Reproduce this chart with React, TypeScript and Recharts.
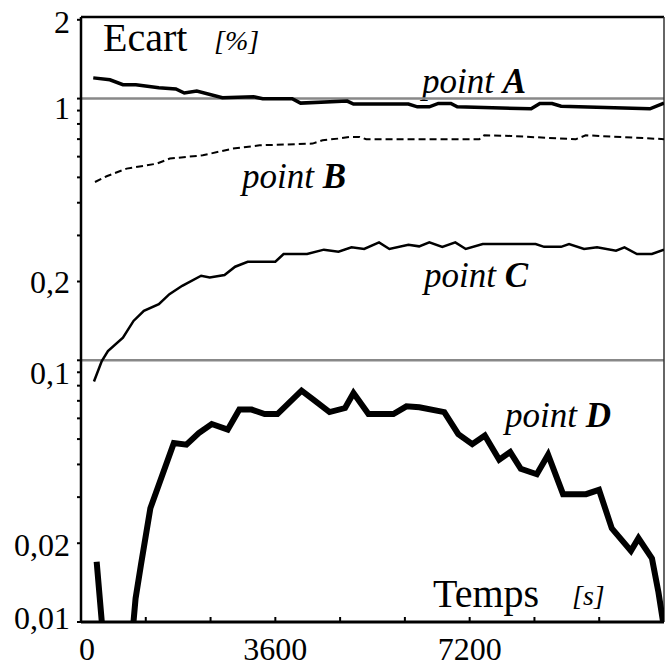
import React from 'react';
import { LineChart, Line, XAxis, YAxis, ReferenceLine } from 'recharts';

const FONT = '"Liberation Serif", "Times New Roman", serif';

// temps [s] et écart [%] relevés pour chaque point
const timeA = [227, 536, 777, 1017, 1442, 1757, 1914, 2145, 2619, 3199, 3366, 3912, 4068, 4931, 5048, 6065, 6231, 6453, 6619, 6852, 6970, 8339, 8500, 8727, 8893, 10539, 10800];
const ecartA = [1.2, 1.18, 1.13, 1.13, 1.1, 1.088, 1.05, 1.068, 1.007, 1.016, 0.998, 0.998, 0.961, 0.978, 0.953, 0.953, 0.93, 0.93, 0.958, 0.958, 0.93, 0.914, 0.958, 0.958, 0.935, 0.914, 0.961];

const timeB = [259, 475, 845, 1400, 1646, 2256, 2810, 3310, 4290, 4475, 4789, 4974, 5159, 5283, 7378, 7470, 7964, 9166, 9350, 10800];
const ecartB = [0.48, 0.505, 0.54, 0.564, 0.59, 0.607, 0.644, 0.663, 0.673, 0.693, 0.704, 0.714, 0.714, 0.699, 0.699, 0.724, 0.72, 0.699, 0.724, 0.7];

const timeC = [240, 385, 499, 777, 973, 1165, 1442, 1638, 1875, 2226, 2385, 2659, 2855, 3088, 3600, 3753, 4188, 4500, 4770, 5011, 5246, 5521, 5713, 6065, 6264, 6453, 6693, 6934, 7128, 7442, 8422, 8579, 8893, 9041, 9319, 9559, 9911, 10068, 10299, 10576, 10800];
const ecartC = [0.083, 0.0993, 0.1084, 0.122, 0.1414, 0.1544, 0.1638, 0.179, 0.1926, 0.2104, 0.2073, 0.2117, 0.2278, 0.238, 0.238, 0.2548, 0.2548, 0.2647, 0.26, 0.2701, 0.2663, 0.2823, 0.2663, 0.2766, 0.2725, 0.2823, 0.2713, 0.2823, 0.2663, 0.2783, 0.2783, 0.2713, 0.2713, 0.2783, 0.2663, 0.2701, 0.2623, 0.2701, 0.2548, 0.2548, 0.2647];

const timeD = [290, 550, 800, 1011, 1110, 1285, 1720, 1953, 2182, 2422, 2718, 2933, 3162, 3402, 3639, 4086, 4305, 4604, 4892, 5048, 5325, 5787, 6028, 6268, 6730, 6989, 7248, 7481, 7747, 7951, 8147, 8444, 8653, 8930, 9356, 9596, 9833, 10188, 10327, 10577, 10697, 10800];
const ecartD = [0.017, 0.004, 0.004, 0.0123, 0.0165, 0.0272, 0.0483, 0.0476, 0.0527, 0.0571, 0.0543, 0.0648, 0.0648, 0.0623, 0.0623, 0.0766, 0.0708, 0.0634, 0.0657, 0.075, 0.0623, 0.0623, 0.0667, 0.0661, 0.0634, 0.0522, 0.0478, 0.0516, 0.0417, 0.0446, 0.0385, 0.0367, 0.0436, 0.0308, 0.0308, 0.032, 0.0228, 0.0187, 0.0209, 0.0175, 0.013, 0.0095];

const xTicks = [0, 1200, 2400, 3600, 4800, 6000, 7200, 8400, 9600, 10800];
const xLabels = [0, 3600, 7200];

const yTicks = [2, 1, 0.9, 0.8, 0.7, 0.6, 0.5, 0.4, 0.3, 0.2, 0.1, 0.09, 0.08, 0.07, 0.06, 0.05, 0.04, 0.03, 0.02, 0.01];
const yLabelValues = [2, 1, 0.2, 0.1, 0.02, 0.01];
const yLabelTexts = ['2', '1', '0,2', '0,1', '0,02', '0,01'];

const toData = (t: number[], v: number[]) => t.map((time, i) => ({ t: time, v: v[i] }));
const dataA = toData(timeA, ecartA);
const dataB = toData(timeB, ecartB);
const dataC = toData(timeC, ecartC);
const dataD = toData(timeD, ecartD);

// décalages verticaux des libellés (comme sur l'original)
const yShift = [3, 10, 1, 13, 2, -4];

const YTick = ({ x, y, payload }: any) => {
  const i = yLabelValues.indexOf(payload.value);
  return (
    <g>
      <line x1={x - 4} x2={x} y1={y} y2={y} stroke="#000" strokeWidth={2} />
      {i >= 0 && (
        <text x={x - 11} y={y + yShift[i] + 10.5} textAnchor="end" fontFamily={FONT} fontSize={32} fill="#000">
          {yLabelTexts[i]}
        </text>
      )}
    </g>
  );
};

const XTick = ({ x, y, payload }: any) => {
  const v = payload.value;
  return (
    <g>
      {v > 0 && v < 10800 && <line x1={x} x2={x} y1={y} y2={y - 5} stroke="#000" strokeWidth={2} />}
      {xLabels.includes(v) && (
        <text x={v === 0 ? x + 6 : x} y={y + 38} textAnchor="middle" fontFamily={FONT} fontSize={32} fill="#000">
          {v}
        </text>
      )}
    </g>
  );
};

const PointLabel = ({ x, y, letter }: { x: number; y: number; letter: string }) => (
  <text x={x} y={y} fontFamily={FONT} fontSize={35} fontStyle="italic" fill="#000">
    point <tspan fontWeight="bold">{letter}</tspan>
  </text>
);

export default function App() {
  return (
    <div style={{ position: 'absolute', left: 0, top: 0, background: '#fff' }}>
      <LineChart width={665} height={667} margin={{ top: 17, right: 1, bottom: 0, left: 0 }}>
        <XAxis
          type="number"
          dataKey="t"
          domain={[0, 10800]}
          ticks={xTicks}
          interval={0}
          allowDataOverflow
          height={45}
          tickSize={0}
          tickMargin={0}
          tickLine={false}
          axisLine={{ stroke: '#000', strokeWidth: 3 }}
          tick={(p: any) => <XTick {...p} />}
        />
        <YAxis
          type="number"
          dataKey="v"
          scale="log"
          domain={[0.01, 2.05]}
          ticks={yTicks}
          interval={0}
          allowDataOverflow
          width={81}
          tickSize={0}
          tickMargin={0}
          tickLine={false}
          axisLine={{ stroke: '#000', strokeWidth: 2.5 }}
          tick={(p: any) => <YTick {...p} />}
        />
        <ReferenceLine y={1} stroke="#888" strokeWidth={2.5} />
        <ReferenceLine y={0.1} stroke="#888" strokeWidth={2.5} />
        <ReferenceLine y={2.05} stroke="#000" strokeWidth={2.5} />
        <ReferenceLine x={10800} stroke="#333" strokeWidth={1.5} />

        <Line data={dataA} dataKey="v" type="linear" stroke="#000" strokeWidth={3.5} dot={false} isAnimationActive={false} />
        <Line data={dataB} dataKey="v" type="linear" stroke="#000" strokeWidth={2} strokeDasharray="7 4" dot={false} isAnimationActive={false} />
        <Line data={dataC} dataKey="v" type="linear" stroke="#000" strokeWidth={2.5} dot={false} isAnimationActive={false} />
        <Line data={dataD} dataKey="v" type="linear" stroke="#000" strokeWidth={6} dot={false} isAnimationActive={false} />

        <g>
          <text x={103} y={51} fontFamily={FONT} fontSize={40} fill="#000">Ecart</text>
          <text x={214} y={50} fontFamily={FONT} fontSize={28} fontStyle="italic" fill="#000">[%]</text>
          <PointLabel x={422} y={93} letter="A" />
          <PointLabel x={242} y={188} letter="B" />
          <PointLabel x={424} y={287} letter="C" />
          <PointLabel x={505} y={427} letter="D" />
          <text x={433} y={607} fontFamily={FONT} fontSize={40} fill="#000">Temps</text>
          <text x={572} y={605} fontFamily={FONT} fontSize={28} fontStyle="italic" fill="#000">[s]</text>
        </g>
      </LineChart>
    </div>
  );
}
